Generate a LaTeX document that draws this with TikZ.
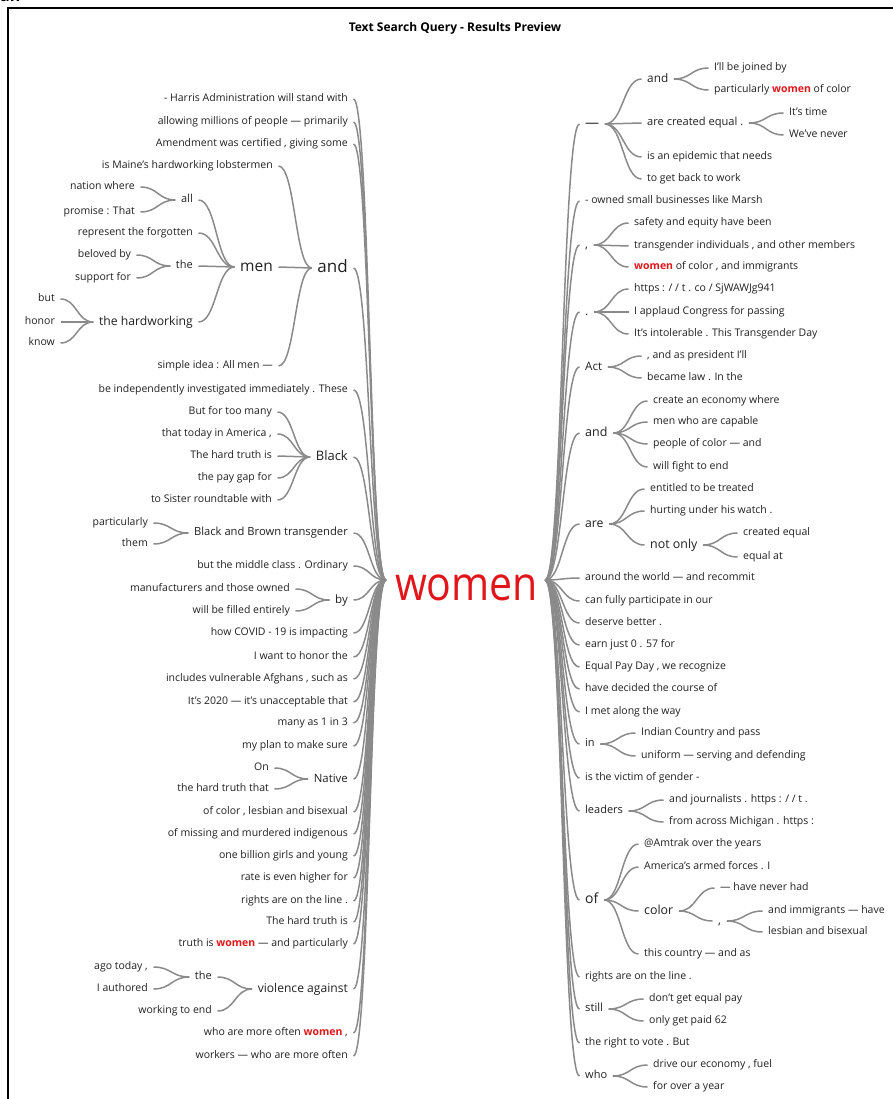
\documentclass[tikz,border=0pt]{standalone}
\usepackage{fontspec}
\usepackage{graphicx}
\setmainfont{Open Sans}
\usetikzlibrary{calc}
\definecolor{txt}{HTML}{202020}
\definecolor{lnc}{HTML}{8A8A8A}
\definecolor{wred}{HTML}{E0161B}
\newcommand\wl[2]{\draw[conn] let \p1=(#1), \p2=(#2) in (\p1) .. controls ({(\x1+\x2)/2},\y1) and ({(\x1+\x2)/2},\y2) .. (\p2);}
\newcommand\rw{\textbf{\textcolor{wred}{women}}}
\tikzset{
  sz/.style={font=\fontsize{#1}{#1}\selectfont, text height={0.74*#1pt}, text depth={0.21*#1pt}},
  w/.style={text=txt, inner xsep=5.5pt, inner ysep=0pt, sz=10.5},
  L/.style={anchor=east, xshift=5.5pt},
  R/.style={anchor=west, xshift=-5.5pt},
  conn/.style={draw=lnc, line width=1.5pt}
}
\begin{document}
\begin{tikzpicture}[x=1pt,y=-1pt]
\useasboundingbox (0,0) rectangle (893,1099);
\node[font=\bfseries\fontsize{16}{16}\selectfont, anchor=base west, inner sep=0pt] (an) at (0,2) {an};
\draw[line width=1.2pt] (8,1120) -- (8,8) -- (910,8);
\node[font=\bfseries\fontsize{12}{12}\selectfont, text=black] (title) at (455,28) {Text Search Query - Results Preview};
% root
\node[text=wred, font=\fontsize{41}{41}\selectfont, inner sep=0pt] (root) at (466.5,588) {\scalebox{1}[1.15]{women}};
\coordinate (rootL) at ([shift={(-9pt,8pt)}]root.west);
\coordinate (rootR) at ([shift={(7pt,8pt)}]root.east);
% ---------------- left side
\node[w,L] (l1) at (348,99) {- Harris Administration will stand with};
\node[w,L] (l2) at (348,122) {allowing millions of people — primarily};
\node[w,L] (l3) at (348,144) {Amendment was certified , giving some};
\node[w,L,sz=17] (land) at (348,268) {and};
\node[w,L] (land1) at (273,166) {is Maine's hardworking lobstermen};
\node[w,L,sz=15.5] (men) at (273,267) {men};
\node[w,L,sz=11] (all) at (193,200) {all};
\node[w,L] (all1) at (135,187) {nation where};
\node[w,L] (all2) at (135,212) {promise : That};
\node[w,L] (men2) at (193,233) {represent the forgotten};
\node[w,L,sz=11] (the1) at (193,266) {the};
\node[w,L] (the1a) at (131,255) {beloved by};
\node[w,L] (the1b) at (131,278) {support for};
\node[w,L,sz=12.2] (hw) at (193,322) {the hardworking};
\node[w,L] (hw1) at (55,299) {but};
\node[w,L] (hw2) at (55,322) {honor};
\node[w,L] (hw3) at (55,343) {know};
\node[w,L] (land3) at (273,366) {simple idea : All men —};
\node[w,L] (l5) at (348,390) {be independently investigated immediately . These};
\node[w,L,sz=13] (black) at (348,457) {Black};
\node[w,L] (bl1) at (272,412) {But for too many};
\node[w,L] (bl2) at (272,434) {that today in America ,};
\node[w,L] (bl3) at (272,456) {The hard truth is};
\node[w,L] (bl4) at (272,478) {the pay gap for};
\node[w,L] (bl5) at (272,500) {to Sister roundtable with};
\node[w,L,sz=11.2] (bbt) at (348,533) {Black and Brown transgender};
\node[w,L] (bbt1) at (148,523) {particularly};
\node[w,L] (bbt2) at (148,544) {them};
\node[w,L] (l8) at (348,566) {but the middle class . Ordinary};
\node[w,L,sz=11.5] (by) at (348,600) {by};
\node[w,L] (by1) at (290,589) {manufacturers and those owned};
\node[w,L] (by2) at (290,611) {will be filled entirely};
\node[w,L] (l10) at (348,633) {how COVID - 19 is impacting};
\node[w,L] (l11) at (348,657) {I want to honor the};
\node[w,L] (l12) at (348,679) {includes vulnerable Afghans , such as};
\node[w,L] (l13) at (348,702) {It's 2020 — it's unacceptable that};
\node[w,L] (l14) at (348,723) {many as 1 in 3};
\node[w,L] (l15) at (348,746) {my plan to make sure};
\node[w,L,sz=11.4] (native) at (348,779) {Native};
\node[w,L] (na1) at (269,768) {On};
\node[w,L] (na2) at (269,789) {the hard truth that};
\node[w,L] (l17) at (348,812) {of color , lesbian and bisexual};
\node[w,L] (l18) at (348,834) {of missing and murdered indigenous};
\node[w,L] (l19) at (348,856) {one billion girls and young};
\node[w,L] (l20) at (348,878) {rate is even higher for};
\node[w,L] (l21) at (348,901) {rights are on the line .};
\node[w,L] (l22) at (348,922) {The hard truth is};
\node[w,L] (l23) at (348,944) {truth is \rw{} — and particularly};
\node[w,L,sz=12.1] (viol) at (348,989) {violence against};
\node[w,L,sz=11] (the2) at (212,977) {the};
\node[w,L] (the2a) at (148,967) {ago today ,};
\node[w,L] (the2b) at (148,989) {I authored};
\node[w,L] (viol2) at (212,1011) {working to end};
\node[w,L] (l25) at (348,1033) {who are more often \rw{} ,};
\node[w,L] (l26) at (348,1056) {workers — who are more often};
% ---------------- right side
\node[w,R,sz=14] (dash) at (585,124) {—};
\node[w,R,sz=11.8] (dand) at (647,79) {and};
\node[w,R] (dand1) at (714,68) {I’ll be joined by};
\node[w,R] (dand2) at (714,90) {particularly \rw{} of color};
\node[w,R,sz=11.1] (dare) at (647,123) {are created equal .};
\node[w,R] (dare1) at (789,113) {It’s time};
\node[w,R] (dare2) at (789,135) {We’ve never};
\node[w,R] (dep) at (647,157) {is an epidemic that needs};
\node[w,R] (dback) at (647,179) {to get back to work};
\node[w,R] (r2) at (585,201) {- owned small businesses like Marsh};
\node[w,R,sz=12] (comma) at (585,245) {,};
\node[w,R] (cm1) at (634,223) {safety and equity have been};
\node[w,R] (cm2) at (634,246) {transgender individuals , and other members};
\node[w,R] (cm3) at (634,267) {\rw{} of color , and immigrants};
\node[w,R,sz=12] (period) at (585,312) {.};
\node[w,R] (pd1) at (634,289) {https : / / t . co / SjWAWJg941};
\node[w,R] (pd2) at (634,312) {I applaud Congress for passing};
\node[w,R] (pd3) at (634,334) {It’s intolerable . This Transgender Day};
\node[w,R,sz=11.6] (act) at (585,367) {Act};
\node[w,R] (act1) at (647,356) {, and as president I’ll};
\node[w,R] (act2) at (647,378) {became law . In the};
\node[w,R,sz=12.5] (rand) at (585,433) {and};
\node[w,R] (ra1) at (653,401) {create an economy where};
\node[w,R] (ra2) at (653,422) {men who are capable};
\node[w,R] (ra3) at (653,444) {people of color — and};
\node[w,R] (ra4) at (653,467) {will fight to end};
\node[w,R,sz=12.2] (rare) at (585,524) {are};
\node[w,R] (re1) at (650,489) {entitled to be treated};
\node[w,R] (re2) at (650,511) {hurting under his watch .};
\node[w,R,sz=12.4] (notonly) at (650,545) {not only};
\node[w,R] (no1) at (743,533) {created equal};
\node[w,R] (no2) at (743,557) {equal at};
\node[w,R] (r8) at (585,578) {around the world — and recommit};
\node[w,R] (r9) at (585,601) {can fully participate in our};
\node[w,R] (r10) at (585,623) {deserve better .};
\node[w,R] (r11) at (585,645) {earn just 0 . 57 for};
\node[w,R] (r12) at (585,667) {Equal Pay Day , we recognize};
\node[w,R] (r13) at (585,689) {have decided the course of};
\node[w,R] (r14) at (585,712) {I met along the way};
\node[w,R,sz=11] (rin) at (585,744) {in};
\node[w,R] (in1) at (641,733) {Indian Country and pass};
\node[w,R] (in2) at (641,756) {uniform — serving and defending};
\node[w,R] (r16) at (585,778) {is the victim of gender -};
\node[w,R,sz=11] (leaders) at (585,811) {leaders};
\node[w,R] (ld1) at (669,800) {and journalists . https : / / t .};
\node[w,R] (ld2) at (669,822) {from across Michigan . https :};
\node[w,R,sz=14] (rof) at (585,900) {of};
\node[w,R] (of1) at (644,844) {@Amtrak over the years};
\node[w,R] (of2) at (644,867) {America’s armed forces . I};
\node[w,R,sz=12.4] (color) at (644,911) {color};
\node[w,R] (co1) at (720,888) {— have never had};
\node[w,R,sz=12] (comma2) at (718,921) {,};
\node[w,R] (cc1) at (768,911) {and immigrants — have};
\node[w,R] (cc2) at (768,932) {lesbian and bisexual};
\node[w,R] (of4) at (644,954) {this country — and as};
\node[w,R] (r19) at (585,977) {rights are on the line .};
\node[w,R,sz=11.2] (still) at (585,1009) {still};
\node[w,R] (st1) at (649,999) {don’t get equal pay};
\node[w,R] (st2) at (649,1021) {only get paid 62};
\node[w,R] (r21) at (585,1043) {the right to vote . But};
\node[w,R,sz=11] (who) at (585,1076) {who};
\node[w,R] (wh1) at (653,1065) {drive our economy , fuel};
\node[w,R] (wh2) at (653,1087) {for over a year};
% ---------------- connectors, left
\foreach \nd in {l1,l2,l3,land,l5,black,bbt,l8,by,l10,l11,l12,l13,l14,l15,native,l17,l18,l19,l20,l21,l22,l23,viol,l25,l26}{\wl{\nd.east}{rootL}}
\foreach \nd in {land1,men,land3}{\wl{\nd.east}{land.west}}
\foreach \nd in {all,men2,the1,hw}{\wl{\nd.east}{men.west}}
\foreach \nd in {all1,all2}{\wl{\nd.east}{all.west}}
\foreach \nd in {the1a,the1b}{\wl{\nd.east}{the1.west}}
\foreach \nd in {hw1,hw2,hw3}{\wl{\nd.east}{hw.west}}
\foreach \nd in {bl1,bl2,bl3,bl4,bl5}{\wl{\nd.east}{black.west}}
\foreach \nd in {bbt1,bbt2}{\wl{\nd.east}{bbt.west}}
\foreach \nd in {by1,by2}{\wl{\nd.east}{by.west}}
\foreach \nd in {na1,na2}{\wl{\nd.east}{native.west}}
\foreach \nd in {the2,viol2}{\wl{\nd.east}{viol.west}}
\foreach \nd in {the2a,the2b}{\wl{\nd.east}{the2.west}}
% ---------------- connectors, right
\foreach \nd in {dash,r2,comma,period,act,rand,rare,r8,r9,r10,r11,r12,r13,r14,rin,r16,leaders,rof,r19,still,r21,who}{\wl{rootR}{\nd.west}}
\foreach \nd in {dand,dare,dep,dback}{\wl{dash.east}{\nd.west}}
\foreach \nd in {dand1,dand2}{\wl{dand.east}{\nd.west}}
\foreach \nd in {dare1,dare2}{\wl{dare.east}{\nd.west}}
\foreach \nd in {cm1,cm2,cm3}{\wl{comma.east}{\nd.west}}
\foreach \nd in {pd1,pd2,pd3}{\wl{period.east}{\nd.west}}
\foreach \nd in {act1,act2}{\wl{act.east}{\nd.west}}
\foreach \nd in {ra1,ra2,ra3,ra4}{\wl{rand.east}{\nd.west}}
\foreach \nd in {re1,re2,notonly}{\wl{rare.east}{\nd.west}}
\foreach \nd in {no1,no2}{\wl{notonly.east}{\nd.west}}
\foreach \nd in {in1,in2}{\wl{rin.east}{\nd.west}}
\foreach \nd in {ld1,ld2}{\wl{leaders.east}{\nd.west}}
\foreach \nd in {of1,of2,color,of4}{\wl{rof.east}{\nd.west}}
\foreach \nd in {co1,comma2}{\wl{color.east}{\nd.west}}
\foreach \nd in {cc1,cc2}{\wl{comma2.east}{\nd.west}}
\foreach \nd in {st1,st2}{\wl{still.east}{\nd.west}}
\foreach \nd in {wh1,wh2}{\wl{who.east}{\nd.west}}
\end{tikzpicture}
\end{document}
